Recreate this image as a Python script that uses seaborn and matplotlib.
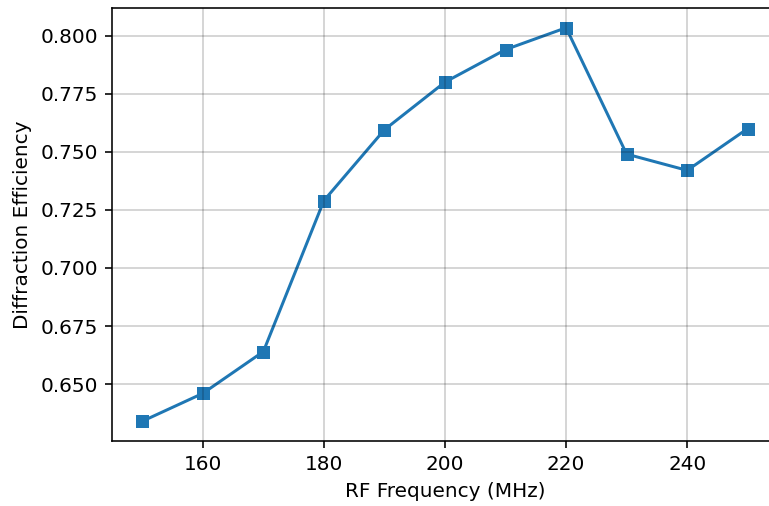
import numpy as np
import pandas as pd
import matplotlib
matplotlib.use("Agg")
import matplotlib.pyplot as plt
import seaborn as sns

# RF drive frequency (MHz) and measured diffraction efficiency
freq_mhz = [150, 160, 170, 180, 190, 200, 210, 220, 230, 240, 250]
efficiency = [0.634, 0.646, 0.664, 0.729, 0.7595, 0.780, 0.794, 0.8034, 0.749, 0.742, 0.760]

df = pd.DataFrame({"RF Frequency (MHz)": freq_mhz, "Diffraction Efficiency": efficiency})

dpi = 144
fig = plt.figure(figsize=(769 / dpi, 506 / dpi), dpi=dpi)
ax = fig.add_axes([112 / 769, 1 - 441 / 506, 666 / 769, 433 / 506])

sns.lineplot(data=df, x="RF Frequency (MHz)", y="Diffraction Efficiency",
             marker="s", markersize=6.5, markeredgewidth=0, color="#1f77b4",
             linewidth=1.5, ax=ax)

ax.set_xticks([160, 180, 200, 220, 240])
ax.set_yticks([0.650, 0.675, 0.700, 0.725, 0.750, 0.775, 0.800])
ax.set_xlim(145, 255)
ax.set_ylim(0.6255, 0.8119)
ax.set_axisbelow(False)
ax.grid(True, color="black", alpha=0.2, linewidth=0.8)

fig.savefig("out.png", dpi=dpi)
